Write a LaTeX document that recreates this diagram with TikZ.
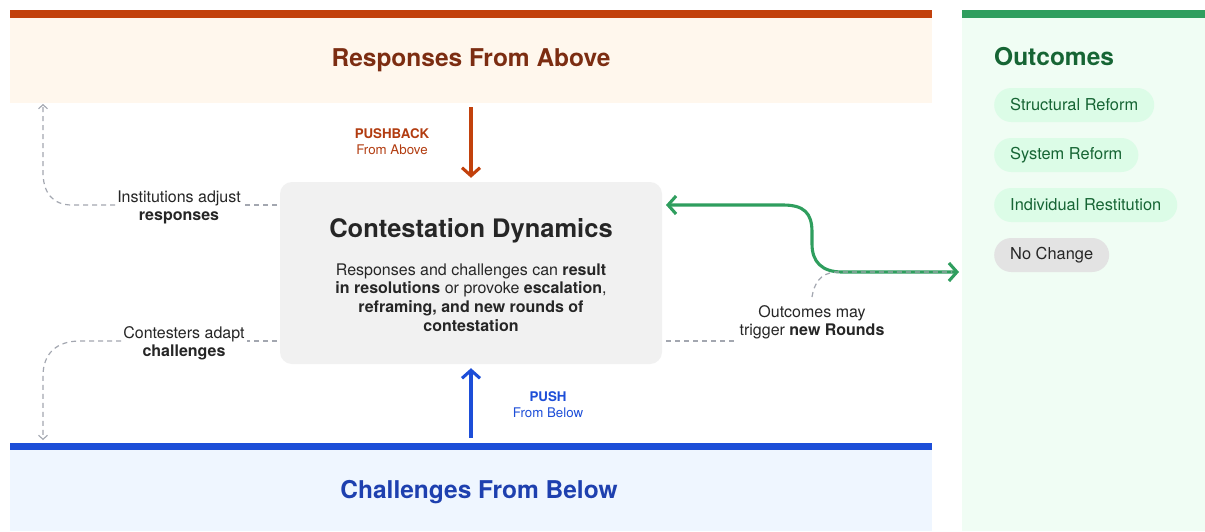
\documentclass[tikz,border=0pt]{standalone}
\usepackage{fontspec}
\setmainfont{TeX Gyre Heros}
\usetikzlibrary{arrows.meta}
\definecolor{topbar}{HTML}{C2410C}
\definecolor{topfill}{HTML}{FFF7ED}
\definecolor{toptitle}{HTML}{7C2D12}
\definecolor{pbtext}{HTML}{B23C10}
\definecolor{botbar}{HTML}{1D4ED8}
\definecolor{botfill}{HTML}{EFF6FF}
\definecolor{bottitle}{HTML}{1E40AF}
\definecolor{grbar}{HTML}{2F9E5E}
\definecolor{grfill}{HTML}{F0FDF4}
\definecolor{grtitle}{HTML}{166534}
\definecolor{pillfill}{HTML}{DCFCE7}
\definecolor{pillgray}{HTML}{E3E3E3}
\definecolor{corefill}{HTML}{F1F1F1}
\definecolor{ink}{HTML}{262626}
\definecolor{dashgray}{HTML}{A3A7B0}
\tikzset{
  band/.style={inner sep=0pt, minimum width=922pt},
  bigtitle/.style={font=\fontsize{24.5}{28}\selectfont\bfseries, inner sep=0pt, anchor=base},
  pill/.style={rounded corners=17pt, minimum height=34pt, inner xsep=16pt, inner ysep=0pt, anchor=west, font=\fontsize{16.4}{18}\selectfont},
  greenpill/.style={pill, fill=pillfill, text=grtitle},
  graypill/.style={pill, fill=pillgray, text=ink},
  side/.style={align=center, text=ink, font=\fontsize{16}{18.5}\selectfont, inner sep=2pt},
  dashconn/.style={draw=dashgray, line width=1.2pt, dash pattern=on 5pt off 4pt},
  smalltip/.style={-{Straight Barb[length=4pt,width=9pt,line width=1.1pt]}},
  bigtip/.style={line width=3.1pt, -{Straight Barb[length=8pt,width=18pt]}},
  arrlabel/.style={align=center, font=\fontsize{13.3}{16}\selectfont, inner sep=0pt}
}
\begin{document}
\begin{tikzpicture}[x=1pt,y=-1pt]
\useasboundingbox (0,0) rectangle (1205,531);
\fill[white] (0,0) rectangle (1205,531);

% top band
\node[band, fill=topfill, minimum height=93pt] (aboveband) at (471,56.5) {};
\fill[topbar] (10,10) rectangle (932,18);
\node[bigtitle, text=toptitle] (abovetitle) at (471,66) {Responses From Above};

% bottom band
\node[band, fill=botfill, minimum height=88pt] (belowband) at (471,487) {};
\fill[botbar] (10,443) rectangle (932,450);
\node[bigtitle, text=bottitle] (belowtitle) at (479,498) {Challenges From Below};

% right panel
\node[fill=grfill, inner sep=0pt, minimum width=243pt, minimum height=521pt] (outpanel) at (1083.5,270.5) {};
\fill[grbar] (962,10) rectangle (1205,18);
\node[bigtitle, text=grtitle, anchor=base west] (outtitle) at (994,65) {Outcomes};
\node[greenpill] (p1) at (994,105) {Structural Reform};
\node[greenpill] (p2) at (994,155) {System Reform};
\node[greenpill] (p3) at (994,205) {Individual Restitution};
\node[graypill] (p4) at (994,255) {No Change};

% core
\node[fill=corefill, rounded corners=12pt, minimum width=382pt, minimum height=182pt, inner sep=0pt] (core) at (471,273) {};
\node[text=ink, font=\fontsize{25.5}{30}\selectfont\bfseries, inner sep=0pt, anchor=base] (coretitle) at (471,237) {Contestation Dynamics};
\node[text=ink, align=center, font=\fontsize{16}{18.7}\selectfont] (corebody) at (471,297.5)
  {Responses and challenges can \textbf{result}\\
   \textbf{in resolutions} or provoke \textbf{escalation},\\
   \textbf{reframing, and new rounds of}\\
   \textbf{contestation}};

% pushback / push
\draw[bigtip, draw=topbar, shorten <=4pt, shorten >=4pt] (aboveband.south) -- (core.north);
\node[arrlabel, text=pbtext] (pblabel) at (392,141.5) {\textbf{PUSHBACK}\\From Above};
\draw[bigtip, draw=botbar, shorten <=5pt, shorten >=4pt] (belowband.north) -- (core.south);
\node[arrlabel, text=botbar] (pushlabel) at (548,404.5) {\textbf{PUSH}\\From Below};

% left connectors
\node[side] (inst) at (179,207.5) {Institutions adjust\\\textbf{responses}};
\node[side] (cont) at (184,343.5) {Contesters adapt\\\textbf{challenges}};
\coordinate (instin) at (277,205);
\coordinate (contin) at (277,341);
\coordinate (uptip) at (43,104);
\coordinate (downtip) at (43,440);
\draw[dashconn] (instin) -- (instin -| inst.east);
\draw[dashconn, smalltip] (instin -| inst.west) -- (72,205) .. controls (52,205) and (43,192) .. (43,172) -- (uptip);
\draw[dashconn] (contin) -- (contin -| cont.east);
\draw[dashconn, smalltip] (contin -| cont.west) -- (80,341) .. controls (56,341) and (43,354) .. (43,376) -- (downtip);

% green loop
\coordinate (gleft) at (666,205);
\coordinate (gright) at (959,272);
\draw[line width=3.1pt, grbar, {Straight Barb[length=8pt,width=18pt]}-{Straight Barb[length=8pt,width=18pt]}]
  (gleft) -- (783,205) .. controls (804,205) and (812,213) .. (812,232)
  -- (812,244) .. controls (812,262) and (822,272) .. (842,272) -- (gright);

% right connector
\node[side] (outc) at (812,322.5) {Outcomes may\\trigger \textbf{new Rounds}};
\coordinate (rin) at (666,341);
\draw[dashconn] (rin) -- ++(68,0);
\draw[dashconn] (812,297) .. controls (814,284) and (820,273) .. (836,272) -- (952,272);
\end{tikzpicture}
\end{document}
